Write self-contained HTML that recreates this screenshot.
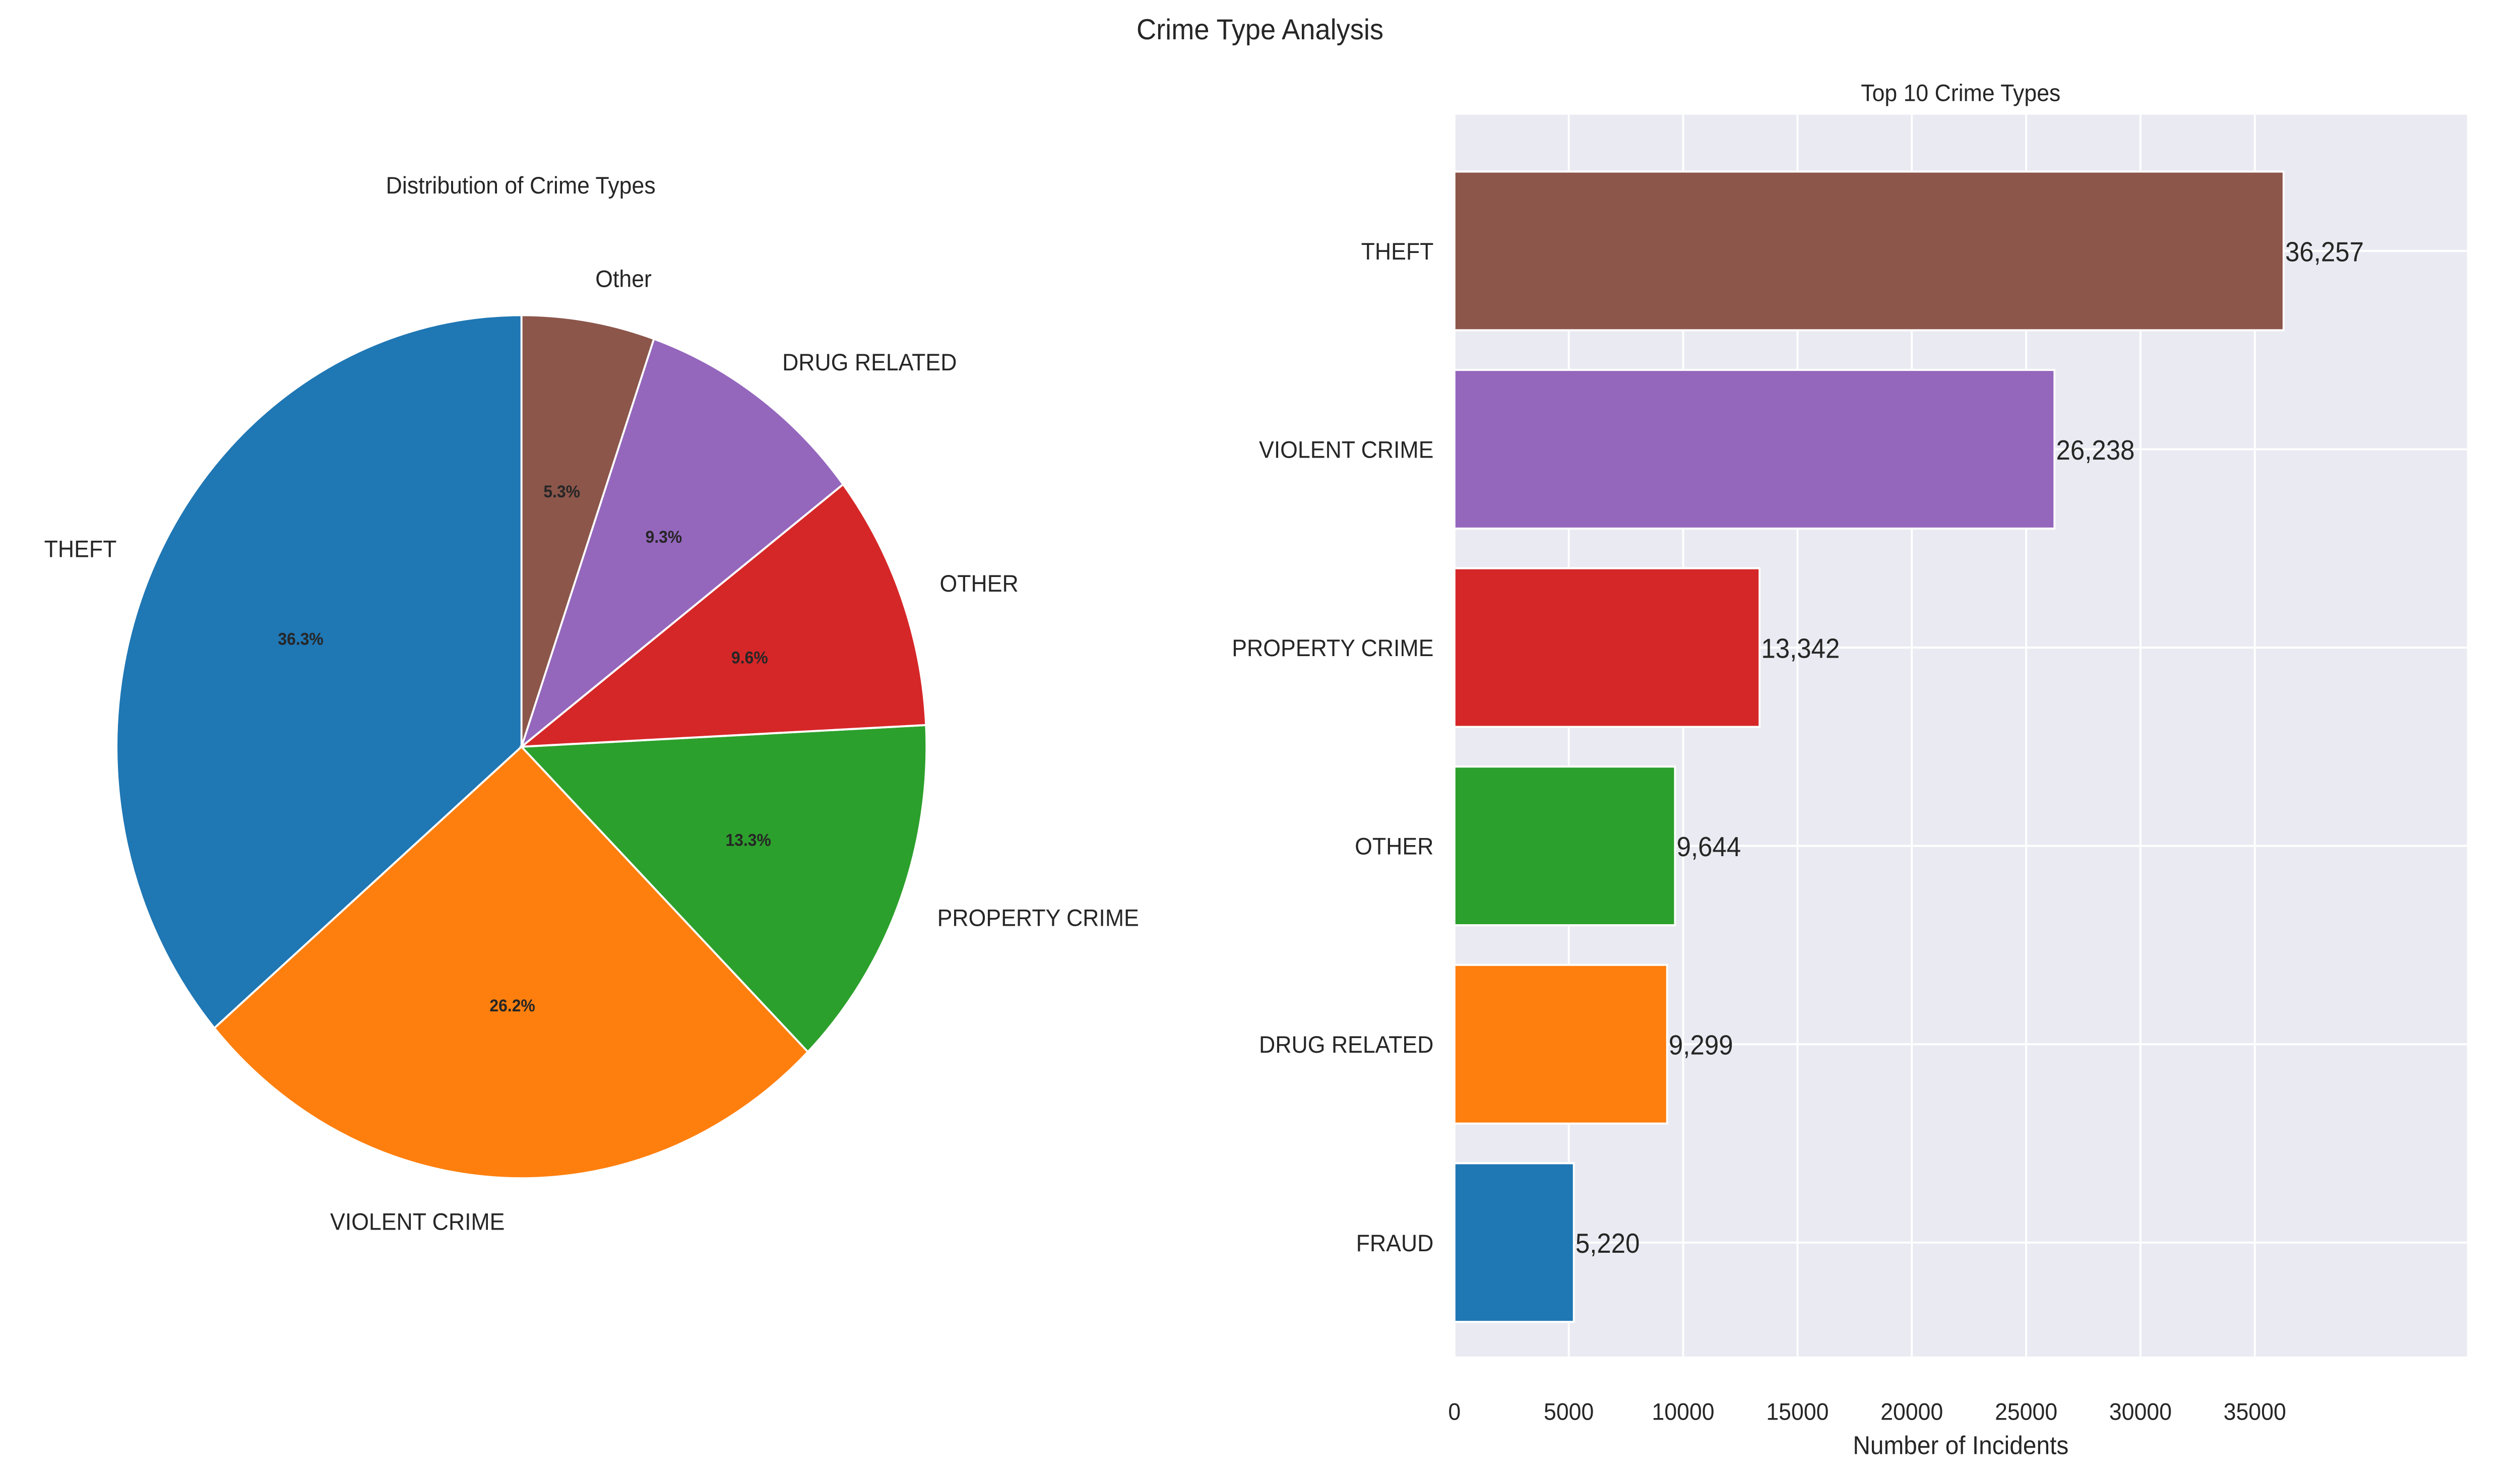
<!DOCTYPE html>
<html><head><meta charset="utf-8"><style>
html,body{margin:0;padding:0;background:#fff;overflow:hidden;width:100%;height:100%;}
svg{display:block;width:100vw;height:100vh;font-family:"Liberation Sans",Arial,sans-serif;}
</style></head><body>
<svg id="fig" viewBox="0 0 1568 861.8" preserveAspectRatio="none" xmlns="http://www.w3.org/2000/svg">
<rect width="1568" height="862" fill="#fff"/>
<text x="784" y="23" font-size="17" text-anchor="middle" fill="#262626">Crime Type Analysis</text>
<text x="324" y="113" font-size="14" text-anchor="middle" fill="#262626">Distribution of Crime Types</text>
<g id="pie"></g>
<text x="1220" y="59" font-size="14" text-anchor="middle" fill="#262626">Top 10 Crime Types</text>
<rect x="905" y="67" width="630" height="725" fill="#eaeaf2"/>
<g id="grid"></g>
<g id="bars"></g>
<text x="1220" y="849" font-size="15" text-anchor="middle" fill="#262626">Number of Incidents</text>
</svg>
<script>
const pieLabels = ["THEFT","VIOLENT CRIME","PROPERTY CRIME","OTHER","DRUG RELATED","Other"];
const pieValues = [36.3,26.2,13.3,9.6,9.3,5.3];
const pieColors = ["#1f77b4","#ff7f0e","#2ca02c","#d62728","#9467bd","#8c564b"];
const barCats = ["THEFT","VIOLENT CRIME","PROPERTY CRIME","OTHER","DRUG RELATED","FRAUD"];
const barValues = [36257,26238,13342,9644,9299,5220];
const barColors = ["#8c564b","#9467bd","#d62728","#2ca02c","#ff7f0e","#1f77b4"];
const xTicks = [0,5000,10000,15000,20000,25000,30000,35000];

const NS="http://www.w3.org/2000/svg";
function mk(tag,attrs,parent,txt){const e=document.createElementNS(NS,tag);for(const k in attrs)e.setAttribute(k,attrs[k]);if(txt!==undefined)e.textContent=txt;parent.appendChild(e);return e;}

const pie=document.getElementById('pie');
const cx=324.5,cy=436,r=252;
const total=pieValues.reduce((a,b)=>a+b,0);
let ang=90;
pieValues.forEach((v,i)=>{
  const sweep=v/total*360;
  const a0=ang*Math.PI/180,a1=(ang+sweep)*Math.PI/180;
  const x0=cx+r*Math.cos(a0),y0=cy-r*Math.sin(a0),x1=cx+r*Math.cos(a1),y1=cy-r*Math.sin(a1);
  const large=sweep>180?1:0;
  const p=mk('path',{d:`M${cx},${cy} L${x0},${y0} A${r},${r} 0 ${large} 0 ${x1},${y1} Z`,fill:pieColors[i],stroke:'#fff','stroke-width':1.2},pie);
  
  
  const am=(ang+sweep/2)*Math.PI/180;
  const lx=cx+1.1*r*Math.cos(am),ly=cy-1.1*r*Math.sin(am);
  const t=mk('text',{x:lx,y:ly+5,'font-size':14,fill:'#262626','text-anchor':Math.cos(am)>=0?'start':'end'},pie,pieLabels[i]);
  
  
  const px=cx+0.6*r*Math.cos(am),py=cy-0.6*r*Math.sin(am);
  const pt=mk('text',{x:px,y:py+3.5,'font-size':10,'font-weight':'bold',fill:'#262626','text-anchor':'middle'},pie,v.toFixed(1)+'%');
  
  
  ang+=sweep;
});

const L=905,R=1535,T=67,B=792;
const xs=v=>L+v*(1403-905)/35000;
const step=115.8, c0=146.5;
const ys=i=>c0+i*step;
const grid=document.getElementById('grid'),bars=document.getElementById('bars');
xTicks.forEach(t=>{
  const g=mk('line',{x1:xs(t),x2:xs(t),y1:T,y2:B,stroke:'#fff','stroke-width':1.2},grid);
  
  
  const tl=mk('text',{x:xs(t),y:829,'font-size':14,fill:'#262626','text-anchor':'middle'},grid,String(t));
  
  
});
barCats.forEach((c,i)=>{
  const g=mk('line',{x1:L,x2:R,y1:ys(i),y2:ys(i),stroke:'#fff','stroke-width':1.2},grid);
  
  
});
const bh=step*0.8;
barCats.forEach((c,i)=>{
  const b=mk('rect',{x:L,y:ys(i)-bh/2,width:xs(barValues[i])-L,height:bh,fill:barColors[i],stroke:'#fff','stroke-width':1.2},bars);
  
  
  const yl=mk('text',{x:892,y:ys(i)+5,'font-size':14,fill:'#262626','text-anchor':'end'},bars,c);
  
  
  const vl=mk('text',{x:xs(barValues[i])+1,y:ys(i)+6,'font-size':16,fill:'#262626'},bars,barValues[i].toLocaleString('en-US'));
  
  
});
</script>
</body></html>
